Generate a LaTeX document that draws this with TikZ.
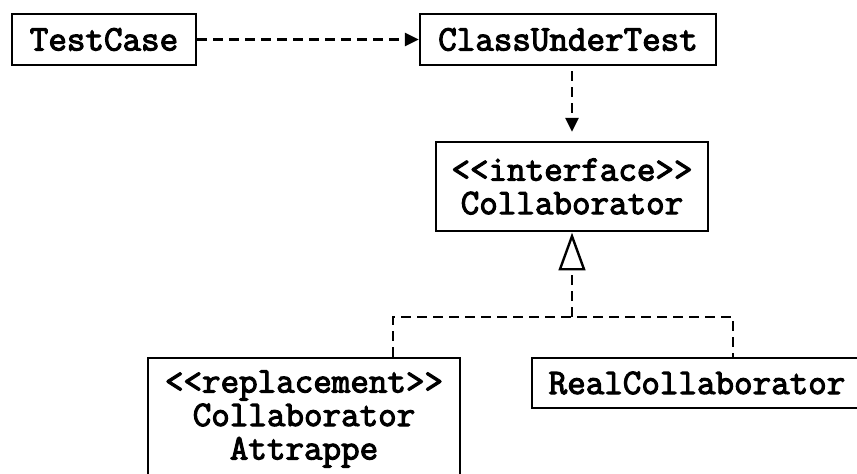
\documentclass[tikz,border=0pt]{standalone}
\usepackage{fontspec}
\setmonofont{Latin Modern Mono}[AutoFakeBold=3]
\usepackage{tikz}
\usetikzlibrary{arrows.meta, positioning, calc}

\begin{document}
\begin{tikzpicture}[x=1pt, y=-1pt,
            klasse/.style={rectangle, draw=black, line width=2.4pt, fill=white, inner sep=0pt, align=center, font=\ttfamily\bfseries\fontsize{36}{33.5}\selectfont},
            abhaengig/.style={-{Triangle[length=14pt, width=13pt]}, line width=2.5pt, dash pattern=on 10pt off 6pt},
            realisiert/.style={line width=2.5pt, dash pattern=on 10pt off 6pt}]

            \useasboundingbox (0,0) rectangle (857,474);

            \node[klasse, minimum width=184pt, minimum height=51pt] (test) at (104,39.5) {TestCase};
            \node[klasse, minimum width=296pt, minimum height=51pt] (cut) at (568,39.5) {ClassUnderTest};
            \node[klasse, minimum width=272pt, minimum height=89pt] (iface) at (572,186.5) {<<interface>>\\Collaborator};
            \node[klasse, minimum width=312pt, minimum height=122pt] (attr) at (304,419) {<<replacement>>\\Collaborator\\Attrappe};
            \node[klasse, minimum width=330pt, minimum height=50pt] (real) at (697,383) {RealCollaborator};

            % Abhaengigkeiten
            \draw[abhaengig] (test) -- (cut);
            \draw[abhaengig, shorten <=5pt, shorten >=1pt] (iface.north |- cut.south) -- ([yshift=8pt]iface.north);

            % Realisierung der Schnittstelle
            \coordinate (knoten) at (572,317);
            \coordinate (links) at (393,317);
            \coordinate (rechts) at (733,317);
            \draw[realisiert] (attr.north -| links) -- (links) -- (rechts) -- (real.north -| rechts);
            \draw[realisiert] (knoten) -- ([yshift=-37pt]iface.south);
            \draw[line width=2.4pt, fill=white] ([yshift=-4pt]iface.south) -- ++(-12,33) -- ++(24,0) -- cycle;
        \end{tikzpicture}
\end{document}
